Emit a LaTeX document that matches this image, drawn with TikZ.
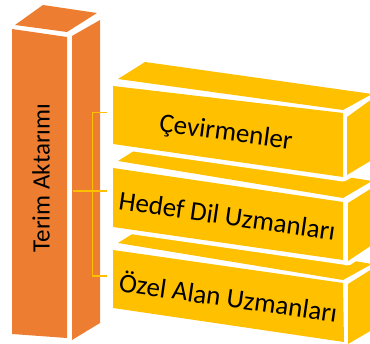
\documentclass[tikz,border=0pt]{standalone}
\usepackage{fontspec}
\setmainfont{Carlito}
\definecolor{colorange}{HTML}{ED7D31}
\definecolor{colgold}{HTML}{FFC000}
\begin{document}
\begin{tikzpicture}[x=1pt,y=-1pt,
  colface/.style={fill=colorange},
  boxface/.style={fill=colgold},
  halo/.style={fill=white,draw=white,line width=9pt,line join=round},
  boxlabel/.style={font=\fontsize{27}{30}\selectfont,text=black,anchor=base,inner sep=0pt},
  collabel/.style={font=\fontsize{25}{30}\selectfont,text=black,anchor=base,inner sep=0pt,rotate=90},
  bracket/.style={draw=colgold,line width=1.6pt}]
\useasboundingbox (0,0) rectangle (370,344);
\clip (0,0) rectangle (370,344);

% orange column
\fill[colface] (15,25) -- (43,5) -- (97,13) -- (67,32) -- cycle;
\fill[colface] (12,29) -- (67,37) -- (67,338) -- (12,334) -- cycle;
\fill[colface] (72,36) -- (100,20) -- (100,323) -- (72,340) -- cycle;
\node[collabel] (lc) at (49.5,178) {Terim Aktarımı};

% box 3 (bottom)
\fill[boxface] (118,243) -- (145,226) -- (372,264) -- (343,280) -- cycle;
\fill[boxface] (113,250) -- (343,283) -- (344,342) -- (113,308) -- cycle;
\fill[boxface] (348,284) -- (372,269) -- (372,330) -- (348,344) -- cycle;
\node[boxlabel,rotate=-8.2] (l3) at (227,307) {Özel Alan Uzmanları};

% box 2 (middle)
\path[halo] (113,168) -- (118,161) -- (145,144) -- (372,181) -- (372,245) -- (348,261) -- (343,260) -- (113,227) -- cycle;
\fill[boxface] (118,161) -- (145,144) -- (372,181) -- (343,198) -- cycle;
\fill[boxface] (113,168) -- (343,202) -- (343,260) -- (113,227) -- cycle;
\fill[boxface] (348,203) -- (372,188) -- (372,245) -- (348,261) -- cycle;
\node[boxlabel,rotate=-8.2] (l2) at (226,225) {Hedef Dil Uzmanları};

% box 1 (top)
\path[halo] (113,86) -- (118,79) -- (145,62) -- (372,94) -- (372,160) -- (347,175) -- (343,177) -- (113,144) -- cycle;
\fill[boxface] (118,79) -- (145,62) -- (372,94) -- (343,110) -- cycle;
\fill[boxface] (113,86) -- (343,113) -- (343,177) -- (113,144) -- cycle;
\fill[boxface] (347,117) -- (372,99) -- (372,160) -- (347,175) -- cycle;
\node[boxlabel,rotate=-7.6] (l1) at (225,140.5) {Çevirmenler};

% bracket
\coordinate (c1) at (106.5,112.5);
\coordinate (c2) at (106.5,191);
\coordinate (c3) at (106.5,276);
\coordinate (cm) at (73,191);
\draw[bracket] (c1) -- ++(-14,0) |- (c3);
\draw[bracket] (cm) -- (c2);
\end{tikzpicture}
\end{document}
